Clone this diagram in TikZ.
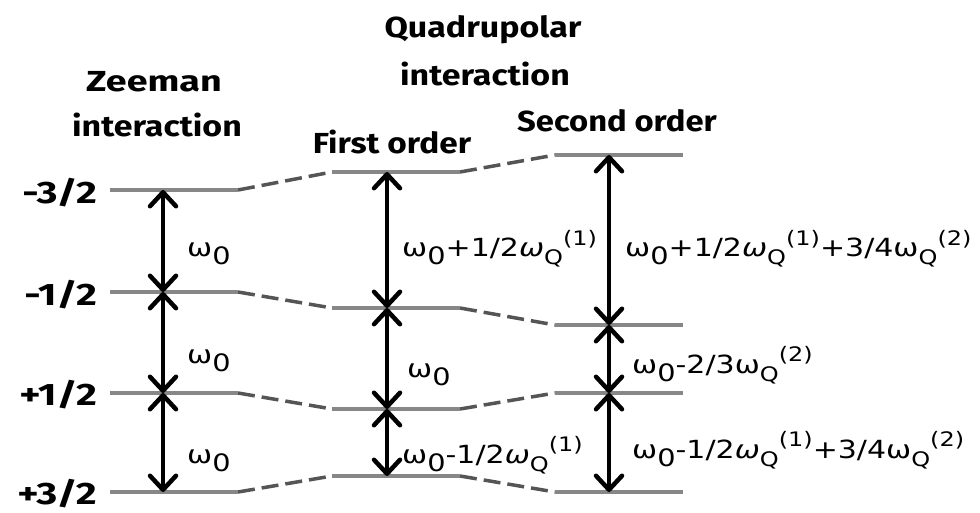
\documentclass[tikz,border=0pt]{standalone}
\usepackage{fontspec}
\usepackage{graphicx}
\setmainfont{Fira Sans}
\newfontfamily\lblfont{DejaVu Sans}
\newfontfamily\lblit{DejaVu Sans Oblique}
\usetikzlibrary{arrows.meta}
\definecolor{lvlgray}{RGB}{135,135,135}
\definecolor{conngray}{RGB}{85,85,85}
\newcommand{\w}{ω}
\newcommand{\wi}{{\lblit ω}}
\newcommand{\sbs}[1]{\raisebox{-0.32em}{\fontsize{24}{24}\selectfont #1}}
\newcommand{\sbq}[1]{\raisebox{-0.32em}{\fontsize{20}{20}\selectfont #1}}
\newcommand{\sps}[1]{\raisebox{0.48em}{\fontsize{20}{20}\selectfont #1}}
\newcommand{\hs}[2][1.2]{\scalebox{#1}[1]{#2}}
\tikzset{
  lvl/.style={draw=lvlgray, line width=4pt},
  conn/.style={draw=conngray, line width=3.5pt, dash pattern=on 17pt off 7pt},
  barb/.tip={Straight Barb[length=14pt,width=26pt,line width=4.5pt,round]},
  arr/.style={draw=black, line width=3.4pt, barb-barb},
  lbl/.style={font=\lblfont\fontsize{25}{25}\selectfont, inner sep=0pt, anchor=base west},
  ttl/.style={font=\bfseries\fontsize{29}{29}\selectfont, inner sep=0pt, anchor=base},
  lev/.style={font=\bfseries\fontsize{31}{31}\selectfont, inner sep=0pt, anchor=base east}
}
\begin{document}
\begin{tikzpicture}[x=1pt,y=-1pt]
\useasboundingbox (0,0) rectangle (980,513);
\foreach \i/\ya/\yb/\yc in {1/190/172/155, 2/292/308/325, 3/393/409/393, 4/492/476/492} {
  \coordinate (A\i L) at (110,\ya); \coordinate (A\i M) at (163,\ya); \coordinate (A\i R) at (238,\ya);
  \coordinate (B\i L) at (332,\yb); \coordinate (B\i M) at (387,\yb); \coordinate (B\i R) at (460,\yb);
  \coordinate (C\i L) at (555,\yc); \coordinate (C\i M) at (609,\yc); \coordinate (C\i R) at (683,\yc);
}
\foreach \i in {1,2,3,4} {
  \draw[conn] (A\i R) -- (B\i L);
  \draw[conn] (B\i R) -- (C\i L);
  \draw[lvl] (A\i L) -- (A\i R);
  \draw[lvl] (B\i L) -- (B\i R);
  \draw[lvl] (C\i L) -- (C\i R);
}
\foreach \c in {A,B,C} {
  \draw[arr] (\c1M) -- (\c2M);
  \draw[arr] (\c2M) -- (\c3M);
  \draw[arr] (\c3M) -- (\c4M);
}
% titles
\node[ttl] (zt1) at (154,92) {\hs[1.3]{Zeeman}};
\node[ttl] (zt2) at (157,137) {\hs[1.17]{interaction}};
\node[ttl] (qt1) at (483,38) {\hs[1.17]{Quadrupolar}};
\node[ttl] (qt2) at (485,86) {\hs[1.17]{interaction}};
\node[ttl] (fo) at (392,154) {\hs[1.15]{First order}};
\node[ttl] (so) at (617,132) {\hs[1.13]{Second order}};
% level labels
\node[lev] (m32) at (97,204) {\hs[1.3]{-3/2}};
\node[lev] (m12) at (97,305) {\hs[1.3]{-1/2}};
\node[lev] (p12) at (97,405) {\hs[1.3]{+1/2}};
\node[lev] (p32) at (97,504) {\hs[1.3]{+3/2}};
% transition labels
\node[lbl] (a1) at (187,257) {\hs{\w\sbs{0}}};
\node[lbl] (a2) at (187,363) {\hs{\w\sbs{0}}};
\node[lbl] (a3) at (187,463) {\hs{\w\sbs{0}}};
\node[lbl] (b1) at (402,257) {\hs{\w\sbs{0}+1/2\wi\sbq{Q}\sps{(1)}}};
\node[lbl] (b2) at (407,377) {\hs{\w\sbs{0}}};
\node[lbl] (b3) at (402,463) {\hs{\w\sbs{0}-1/2\wi\sbq{Q}\sps{(1)}}};
\node[lbl] (c1) at (625,257) {\hs{\w\sbs{0}+1/2\wi\sbq{Q}\sps{(1)}+3/4\w\sbq{Q}\sps{(2)}}};
\node[lbl] (c2) at (632,373) {\hs{\w\sbs{0}-2/3\w\sbq{Q}\sps{(2)}}};
\node[lbl] (c3) at (632,458) {\hs{\w\sbs{0}-1/2\wi\sbq{Q}\sps{(1)}+3/4\w\sbq{Q}\sps{(2)}}};
\end{tikzpicture}
\end{document}
